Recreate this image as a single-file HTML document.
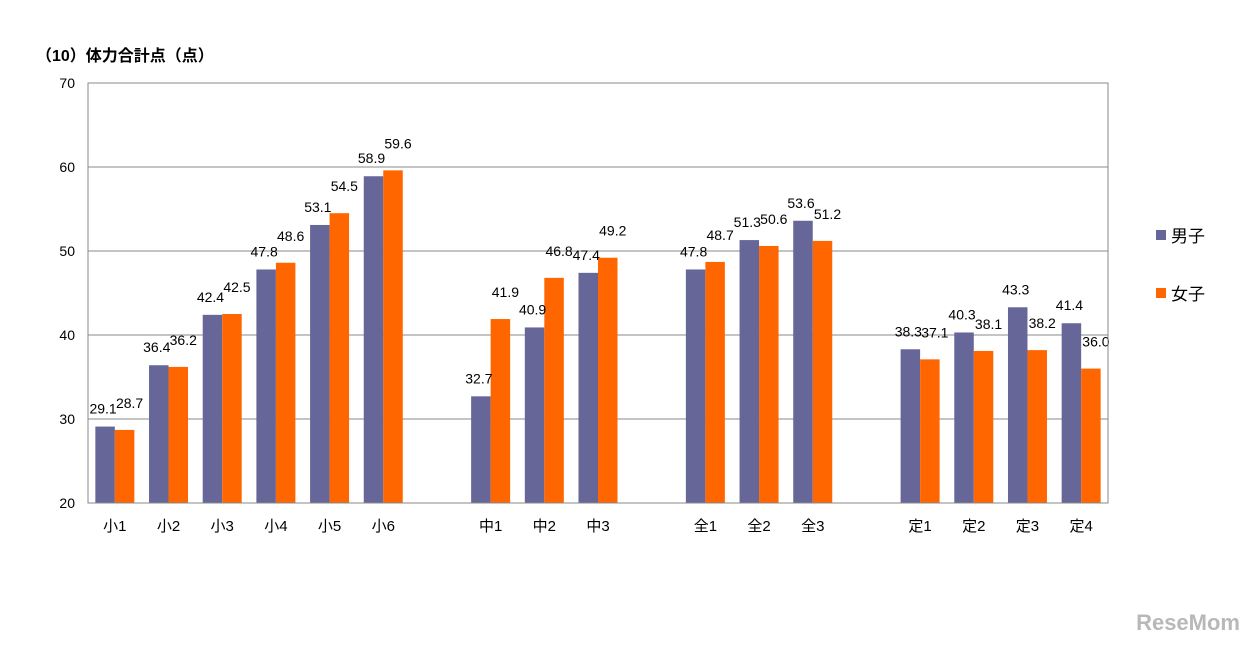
<!DOCTYPE html>
<html><head><meta charset="utf-8">
<style>
body{margin:0;background:#fff;width:1252px;height:645px;overflow:hidden;font-family:"Liberation Sans","Noto Sans CJK JP",sans-serif;}
svg text{font-family:"Liberation Sans","Noto Sans CJK JP",sans-serif;}
</style></head>
<body>
<svg id="chart" width="1252" height="645">
<text x="36" y="61" font-size="16" font-weight="bold" fill="#000">（10）体力合計点（点）</text>
<g id="grid"></g>
<g id="bars"></g>
<g id="labels"></g>
<rect x="88" y="83" width="1020" height="420" fill="none" stroke="#888" stroke-width="1"/>
<g>
<g><rect x="1156" y="230" width="10" height="10" fill="#666699"/><text x="1171" y="242" font-size="17" fill="#000">男子</text></g>
<g><rect x="1156" y="288" width="10" height="10" fill="#FF6600"/><text x="1171" y="300" font-size="17" fill="#000">女子</text></g>
</g>
<text x="1240" y="630" font-size="22" font-weight="bold" fill="#b8b8b8" text-anchor="end">ReseMom</text>
</svg>
<script>
const categories=["小1","小2","小3","小4","小5","小6","","中1","中2","中3","","全1","全2","全3","","定1","定2","定3","定4"];
const male=[29.1,36.4,42.4,47.8,53.1,58.9,null,32.7,40.9,47.4,null,47.8,51.3,53.6,null,38.3,40.3,43.3,41.4];
const female=[28.7,36.2,42.5,48.6,54.5,59.6,null,41.9,46.8,49.2,null,48.7,50.6,51.2,null,37.1,38.1,38.2,36.0];
const yTicks=[20,30,40,50,60,70];
const NS="http://www.w3.org/2000/svg";
const X0=88,X1=1108,Y0=503,Y1=83,YMIN=20,YMAX=70;
const slot=(X1-X0)/categories.length;
const y=v=>Y0-(v-YMIN)/(YMAX-YMIN)*(Y0-Y1);
const xc=i=>X0+slot*(i+0.5);
const bw=19.5;
function mk(tag,attrs,parent){const e=document.createElementNS(NS,tag);for(const k in attrs)e.setAttribute(k,attrs[k]);parent.appendChild(e);return e;}
const grid=document.getElementById('grid'),bars=document.getElementById('bars'),labels=document.getElementById('labels');
yTicks.forEach(t=>{
 const l=mk('line',{x1:X0,x2:X1,y1:y(t),y2:y(t),stroke:'#888','stroke-width':1},grid);
 
 
 const tx=mk('text',{x:75,y:y(t)+5,'font-size':14,'text-anchor':'end',fill:'#000'},grid);
 tx.textContent=t;
 
 
});
categories.forEach((c,i)=>{
 if(c){
  const tx=mk('text',{x:xc(i),y:531,'font-size':15,'text-anchor':'middle',fill:'#000'},labels);
  tx.textContent=c;
  
  
 }
 [[male,'#666699',-1,-2,13],[female,'#FF6600',0,5,22]].forEach(([arr,col,off,dx,dy])=>{
  const v=arr[i]; if(v==null) return;
  const bx=xc(i)+off*bw;
  const r=mk('rect',{x:bx,y:y(v),width:bw,height:Y0-y(v),fill:col},bars);
  
  
  const tx=mk('text',{x:bx+bw/2+dx,y:y(v)-dy,'font-size':14,'text-anchor':'middle',fill:'#000'},labels);
  tx.textContent=v.toFixed(1);
  
  
 });
});
</script>
</body></html>
